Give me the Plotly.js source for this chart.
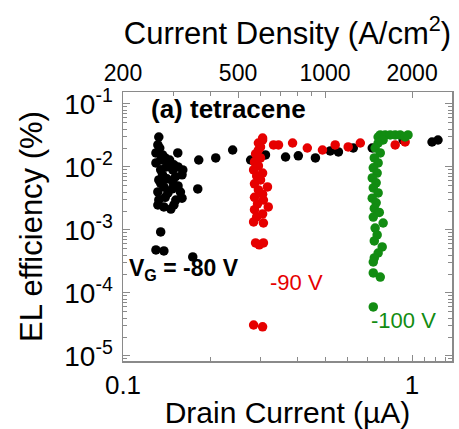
<!DOCTYPE html>
<html>
<head>
<meta charset="utf-8">
<script src="https://cdn.plot.ly/plotly-3.0.1.min.js"></script>
<style>html,body{margin:0;padding:0;background:#fff;}#chart{width:459px;height:429px;}</style>
</head>
<body>
<div id="chart"></div>
<script>
// Drain current (µA) and EL efficiency (%) for each gate voltage
const v80Current = [0.133,0.132,0.130,0.135,0.130,0.143,0.1547,0.1828,0.2093,0.161,0.1487,0.137,0.133,0.1487,0.1385,0.132,0.143,0.1523,0.132,0.1385,0.1464,0.1814,0.135,0.130,0.1385,0.1743,
  0.134,0.137,0.140,0.145,0.150,0.155,0.141,0.135,0.152,0.160,0.142,0.155,0.135,0.148,0.158,0.140,0.133,0.160,0.150,
  0.2395,0.2764,0.311,0.365,0.404,0.463,0.521,0.556,0.626,0.728,0.931,1.172,1.229];
const v80Eff = [0.0299,0.0224,0.0167,0.0129,0.0116,0.0116,0.0167,0.0129,0.0139,0.00896,0.00896,0.00746,0.00622,0.00578,0.00482,0.00401,0.00387,0.00299,0.00249,0.00232,0.00215,0.00448,0.000929,0.000482,0.000464,0.000373,
  0.0200,0.0155,0.0139,0.0129,0.0108,0.0100,0.0100,0.0090,0.0070,0.0075,0.0065,0.0050,0.0055,0.0045,0.0040,0.0033,0.0030,0.0032,0.0025,
  0.0186,0.0129,0.0155,0.0144,0.0150,0.0139,0.0180,0.0173,0.0200,0.0200,0.0268,0.0249,0.0268];

const v90Current = [0.304,0.299,0.3317,0.345,0.386,0.434,0.4897,0.542,0.601,0.662,0.874,0.946,
  0.304,0.294,0.294,0.2875,0.299,0.285,0.294,0.283,0.304,0.290,0.299,0.285,0.316,0.294,0.304,0.285,0.306,0.292,0.318,0.285,0.304,0.290,
  0.283,0.306,0.2875,0.306,0.296,0.283,0.304];
const v90Eff = [0.0288,0.0208,0.0224,0.0224,0.0240,0.0200,0.0186,0.0224,0.0208,0.0240,0.0224,0.0249,
  0.0268,0.0240,0.0186,0.0161,0.0139,0.0120,0.0104,0.00896,0.0080,0.0072,0.00622,0.0054,0.00482,0.00432,0.0037,0.0033,0.00299,0.0026,0.00232,0.0021,0.0018,0.00161,
  0.00134,0.00129,0.000622,0.000622,0.00058,0.000031,0.000029];

const v100Current = [0.776,0.807,0.84,0.874,0.909,0.946,0.968,0.763,0.794,
  0.763,0.745,0.776,0.74,0.763,0.734,0.757,0.728,0.751,0.734,0.763,0.728,0.751,0.74,0.77,0.734,0.794,0.745,0.757,0.74,0.788,0.763,0.74,0.734,
  0.734,0.776,0.734];
const v100Eff = [0.0322,0.0322,0.0322,0.0322,0.0322,0.0299,0.0322,0.0299,0.0268,
  0.024,0.020,0.0167,0.0139,0.0116,0.0097,0.0080,0.0067,0.0056,0.00464,0.00387,0.0032,0.0027,0.0022,0.0019,0.0016,0.00129,0.00107,0.000834,0.00067,0.000537,0.000431,0.00036,0.00031,
  0.000208,0.000179,0.000060];

const bottomTicks = [0.1, 1];
const bottomTickText = ['0.1', '1'];
const bottomMinor = [0.2,0.3,0.4,0.5,0.6,0.7,0.8,0.9,1.1,1.2,1.3];
const topTicks = [200, 500, 1000, 2000];
const topTickText = ['200', '500', '1000', '2000'];
const topMinor = [300,400,600,700,800,900];
const yTicks = [1e-5, 1e-4, 1e-3, 1e-2, 1e-1];
const yTickText = ['10<sup>-5</sup>','10<sup>-4</sup>','10<sup>-3</sup>','10<sup>-2</sup>','10<sup>-1</sup>'];
const yMinor = [];
[1e-6,1e-5,1e-4,1e-3,1e-2,1e-1].forEach(d => { for (let k = 2; k <= 9; k++) yMinor.push(k*d); });

const FONT = 'Liberation Sans, Arial, sans-serif';
const AX = '#8a8a8a';
const mk = (c) => ({size: 9.5, color: c, line: {width: 0}});

const traces = [
  {x: v80Current, y: v80Eff, type: 'scatter', mode: 'markers', marker: mk('#000000'), name: '-80 V'},
  {x: v90Current, y: v90Eff, type: 'scatter', mode: 'markers', marker: mk('#e60000'), name: '-90 V'},
  {x: v100Current, y: v100Eff, type: 'scatter', mode: 'markers', marker: mk('#128c12'), name: '-100 V'},
  {x: topTicks, y: [null, null, null, null], xaxis: 'x2', yaxis: 'y', type: 'scatter', mode: 'markers', showlegend: false, hoverinfo: 'skip'}
];

const layout = {
  width: 459, height: 429,
  margin: {l: 123, r: 7, t: 92, b: 68},
  paper_bgcolor: '#ffffff', plot_bgcolor: '#ffffff',
  showlegend: false,
  font: {family: FONT, color: '#000', size: 22},
  xaxis: {
    type: 'log', range: [-1, 0.138],
    tickmode: 'array', tickvals: bottomTicks, ticktext: bottomTickText,
    ticks: 'inside', ticklen: 6, tickcolor: AX, tickwidth: 1,
    minor: {tickmode: 'array', tickvals: bottomMinor, ticks: 'inside', ticklen: 4, tickcolor: AX},
    showline: true, linecolor: AX, linewidth: 1.5, mirror: false,
    showgrid: false, zeroline: false,
    tickfont: {size: 26, family: FONT},
    title: {text: 'Drain Current (\u00b5A)', font: {size: 30, family: FONT}, standoff: 4},
    automargin: false
  },
  xaxis2: {
    type: 'log', overlaying: 'x', side: 'top', anchor: 'y',
    range: [Math.log10(200), Math.log10(200) + 1.138],
    tickmode: 'array', tickvals: topTicks, ticktext: topTickText,
    ticks: 'inside', ticklen: 6, tickcolor: AX, tickwidth: 1,
    minor: {tickmode: 'array', tickvals: topMinor, ticks: 'inside', ticklen: 4, tickcolor: AX},
    showline: true, linecolor: AX, linewidth: 1.5,
    showgrid: false, zeroline: false,
    tickfont: {size: 23, family: FONT},
    title: {text: 'Current Density (A/cm<sup>2</sup>)', font: {size: 31, family: FONT}, standoff: 6},
    automargin: false
  },
  yaxis: {
    type: 'log', range: [-5.08, -0.81],
    tickmode: 'array', tickvals: yTicks, ticktext: yTickText,
    ticks: 'inside', ticklen: 7, tickcolor: AX, tickwidth: 1,
    minor: {tickmode: 'array', tickvals: yMinor, ticks: 'inside', ticklen: 4, tickcolor: AX},
    showline: true, linecolor: AX, linewidth: 1.5, mirror: 'ticks',
    showgrid: false, zeroline: false,
    tickfont: {size: 28, family: FONT},
    ticklabelstandoff: 3,
    title: {text: 'EL efficiency (%)', font: {size: 31, family: FONT}, standoff: 12},
    automargin: false
  },
  annotations: [
    {xref: 'paper', yref: 'paper', x: 0.08, y: 0.935, xanchor: 'left', yanchor: 'middle', showarrow: false,
     text: '<b>(a) tetracene</b>', font: {size: 26, family: FONT, color: '#000'}},
    {xref: 'paper', yref: 'paper', x: 0.012, y: 0.34, xanchor: 'left', yanchor: 'middle', showarrow: false,
     text: '<b>V<sub>G</sub> = -80 V</b>', font: {size: 23, family: FONT, color: '#000'}},
    {xref: 'paper', yref: 'paper', x: 0.44, y: 0.29, xanchor: 'left', yanchor: 'middle', showarrow: false,
     text: '-90 V', font: {size: 22, family: FONT, color: '#e60000'}},
    {xref: 'paper', yref: 'paper', x: 0.748, y: 0.152, xanchor: 'left', yanchor: 'middle', showarrow: false,
     text: '-100 V', font: {size: 22, family: FONT, color: '#128c12'}}
  ]
};

Plotly.newPlot('chart', traces, layout, {staticPlot: true, displayModeBar: false});
</script>
</body>
</html>
